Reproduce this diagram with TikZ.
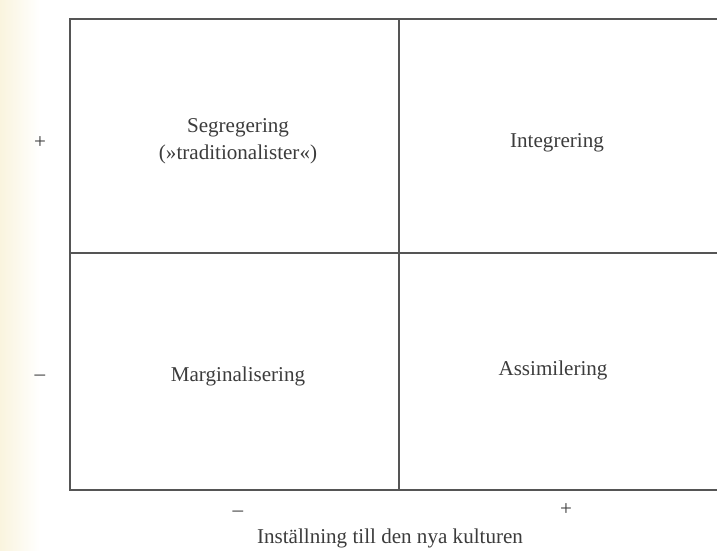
\documentclass[tikz,border=0pt]{standalone}
\usepackage{fontspec}
\setmainfont{Liberation Serif}
\usepackage{tikz}

\definecolor{paper}{RGB}{250,244,222}
\definecolor{rule}{RGB}{85,85,85}
\definecolor{ink}{RGB}{60,60,60}

\tikzset{
	cell/.style={ink, align=center, font=\fontsize{15}{19}\selectfont},
	sign/.style={ink, font=\fontsize{15}{18}\selectfont},
}

\begin{document}
\begin{tikzpicture}
		\useasboundingbox (0.00,0.00) rectangle (17.925,13.775);
		\shade[left color=paper, right color=white] (0.00,0.00) rectangle (1.00,13.775);
		% frame of the four fields
		\draw[draw=rule, line width=0.8pt] (17.925,13.30) -- (1.75,13.30) -- (1.75,1.525) -- (17.925,1.525);
		\draw[draw=rule, line width=0.8pt] (1.75,7.45) -- (17.925,7.45);
		\draw[draw=rule, line width=0.8pt] (9.975,13.30) -- (9.975,1.525);
		% fields
		\node[cell] (seg) at (5.95,10.25) {Segregering\\(»traditionalister«)};
		\node[cell] (int) at (13.925,10.20) {Integrering};
		\node[cell] (marg) at (5.95,4.375) {Marginalisering};
		\node[cell] (ass) at (13.825,4.525) {Assimilering};
		% signs on the axes
		\node[sign] (yplus) at (1.00,10.20) {+};
		\node[sign] (yminus) at (1.00,4.325) {–};
		\node[sign] (xminus) at (5.95,0.925) {–};
		\node[sign] (xplus) at (14.15,1.025) {+};
		\node[cell] (xlabel) at (9.75,0.325) {Inställning till den nya kulturen};
	\end{tikzpicture}
\end{document}
